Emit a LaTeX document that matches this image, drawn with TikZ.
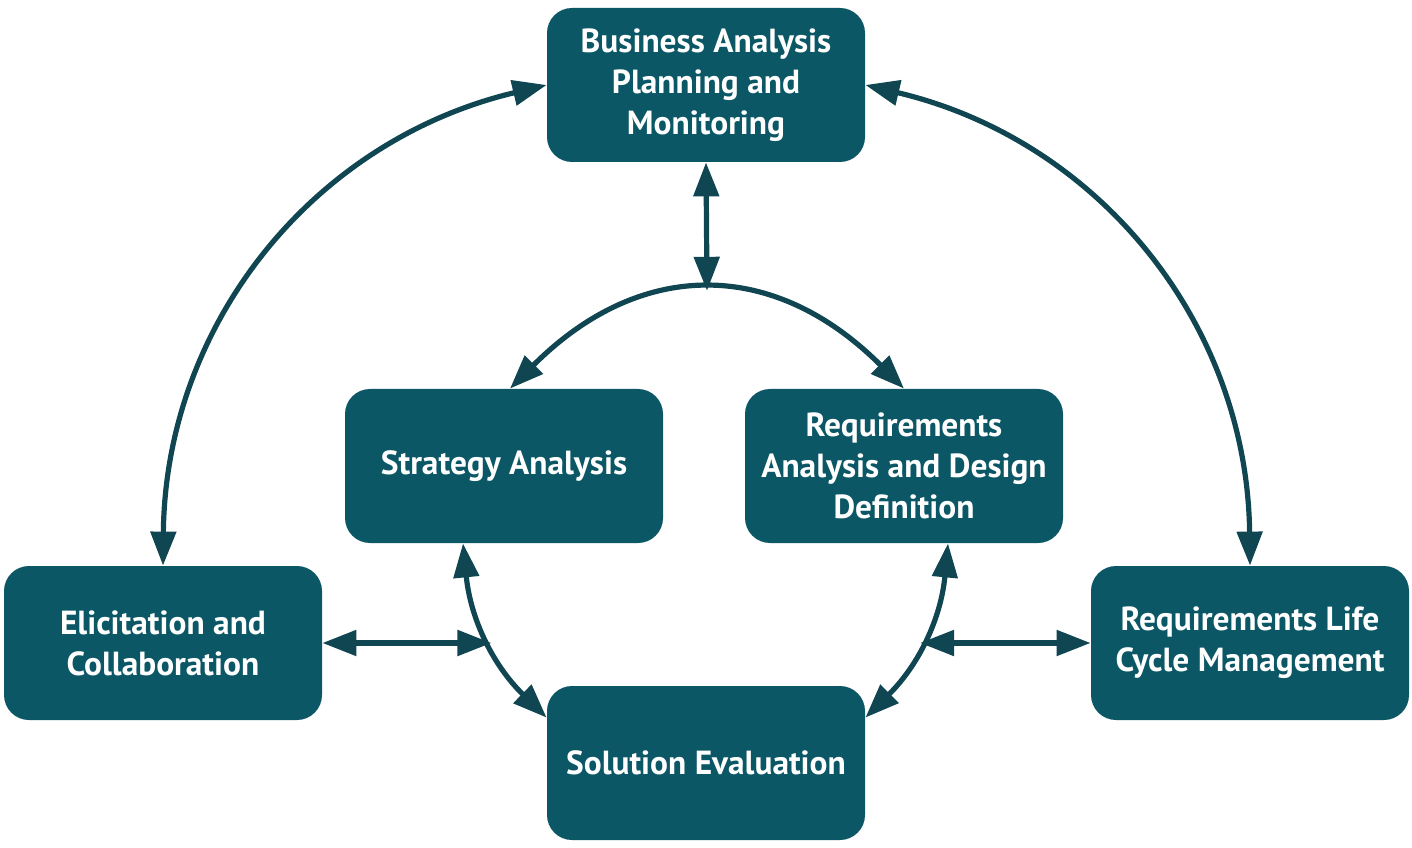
\documentclass[tikz,border=0pt]{standalone}
\usepackage{fontspec}
\setmainfont{PT Sans}
\usetikzlibrary{arrows.meta, positioning}
\definecolor{boxteal}{HTML}{0B5765}
\definecolor{arrowteal}{HTML}{104552}

\begin{document}
\begin{tikzpicture}[
x=0.5pt, y=0.5pt,
>={Triangle[length=17pt,width=12.5pt]},
kabox/.style={rectangle, rounded corners=12.5pt, fill=boxteal, text=white,
  minimum width=159pt, minimum height=77pt, inner sep=2pt, align=center,
  font=\bfseries\fontsize{16.7}{20.5}\selectfont},
link/.style={<->, draw=arrowteal, line width=2.6pt},
]
\useasboundingbox (0,0) rectangle (1412,847);

\node[kabox] (BAPM) at (706,762) {Business Analysis\\Planning and\\Monitoring};
\node[kabox] (SA) at (504,381) {Strategy Analysis};
\node[kabox] (RADD) at (904,381) {Requirements\\Analysis and Design\\Definition};
\node[kabox] (EC) at (163,204) {Elicitation and\\Collaboration};
\node[kabox] (RLCM) at (1250,204) {Requirements Life\\Cycle Management};
\node[kabox] (SE) at (706,84) {Solution Evaluation};

% outer arcs
\draw[link] (BAPM.west) to[bend right=38] (EC.north);
\draw[link] (BAPM.east) to[bend left=38] (RLCM.north);

% inner arcs
\draw[link] ([xshift=3pt]SA.north) to[bend left=45, looseness=1.2]
  coordinate[pos=.5] (archtop) (RADD.north);
\draw[link] ([xshift=-20.5pt]SA.south) to[bend right=20]
  coordinate[pos=.55] (leftarc) ([yshift=-16pt]SE.north west);
\draw[link] ([xshift=22pt]RADD.south) to[bend left=20]
  coordinate[pos=.55] (rightarc) ([yshift=-16pt]SE.north east);

% straight links
\draw[link] (BAPM.south) -- (archtop);
\draw[link] (EC.east) -- (EC.east -| leftarc);
\draw[link] (RLCM.west) -- (RLCM.west -| rightarc);
\end{tikzpicture}
\end{document}
